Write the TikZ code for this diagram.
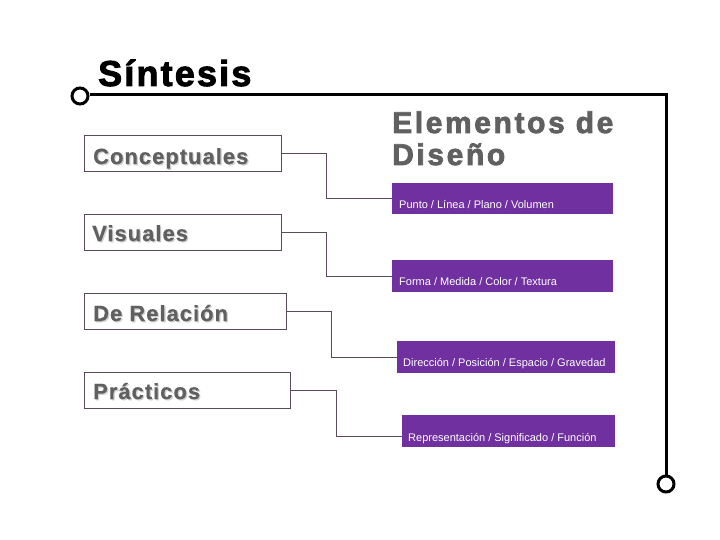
\documentclass[tikz,border=0pt]{standalone}
\usepackage{fontspec}
\setmainfont{Liberation Sans}
\newfontfamily\titlefont{Liberation Sans}[LetterSpace=6,FakeBold=2.5]
\newfontfamily\headfont{Liberation Sans}[LetterSpace=8.7,FakeBold=2.5]
\newfontfamily\catfont{Liberation Sans}[LetterSpace=4.5,FakeBold=0.5]
\definecolor{edge}{HTML}{5B4A5E}
\definecolor{elemfill}{HTML}{7030A0}
\definecolor{txtgray}{HTML}{606060}
\definecolor{shadowgray}{HTML}{D0D0D0}
\newcommand\shadowed[1]{\rlap{\hspace{1.2pt}\raisebox{-1.2pt}{\textcolor{shadowgray}{#1}}}#1}
\begin{document}
\begin{tikzpicture}[x=1pt,y=-1pt,
  lab/.style={anchor=base west,inner sep=0pt},
  catbox/.style={draw=edge,line width=1pt,anchor=north west,inner sep=0pt,minimum height=36pt},
  elembox/.style={fill=elemfill,anchor=north west,inner sep=0pt,minimum height=32pt},
  conn/.style={draw=edge,line width=1pt},
  ring/.style={circle,draw=black,line width=3pt,minimum size=16pt,inner sep=0pt},
  cat/.style={lab,text=txtgray,font=\catfont\bfseries\fontsize{22}{26}\selectfont},
  head/.style={lab,text=txtgray,font=\headfont\bfseries\fontsize{30}{32}\selectfont},
  elem/.style={lab,text=white,font=\fontsize{11}{13}\selectfont}]
\useasboundingbox[fill=white] (0,0) rectangle (720,540);

% title line with rings
\node[ring] (r1) at (80,96) {};
\node[ring] (r2) at (666,484) {};
\coordinate (corner) at (666,95);
\draw[line width=3pt] (r1.east |- corner) -- (corner) -- (r2.north);
\node[lab,font=\titlefont\bfseries\fontsize{36}{40}\selectfont] (title) at (98,86) {Síntesis};

% heading
\node[head] (h1) at (392,133) {Elementos de};
\node[head] (h2) at (392,165) {Diseño};

% category boxes
\node[catbox,minimum width=197pt] (c1) at (84,135) {};
\node[catbox,minimum width=197pt] (c2) at (84,214) {};
\node[catbox,minimum width=202pt] (c3) at (84,293) {};
\node[catbox,minimum width=206pt] (c4) at (84,372) {};
\node[cat] (t1) at (93,164) {\shadowed{Conceptuales}};
\node[cat] (t2) at (92,241) {\shadowed{Visuales}};
\node[cat] (t3) at (93,321) {\shadowed{De Relación}};
\node[cat] (t4) at (93,399) {\shadowed{Prácticos}};

% element boxes
\node[elembox,minimum width=221pt,minimum height=31pt] (p1) at (392,183) {};
\node[elembox,minimum width=221pt] (p2) at (392,260) {};
\node[elembox,minimum width=218pt] (p3) at (397,341) {};
\node[elembox,minimum width=213pt] (p4) at (402,415) {};
\node[elem] (e1) at (399,208) {Punto / Línea / Plano / Volumen};
\node[elem] (e2) at (399,285) {Forma / Medida / Color / Textura};
\node[elem] (e3) at (403,366) {Dirección / Posición / Espacio / Gravedad};
\node[elem] (e4) at (408,441) {Representación / Significado / Función};

% connectors
\draw[conn] (c1.east) -- ++(44,0) |- (p1.west);
\draw[conn] (c2.east) -- ++(44,0) |- (p2.west);
\draw[conn] (c3.east) -- ++(44,0) |- (p3.west);
\draw[conn] (c4.east) -- ++(45,0) |- ([yshift=-5pt]p4.west);
\end{tikzpicture}
\end{document}
